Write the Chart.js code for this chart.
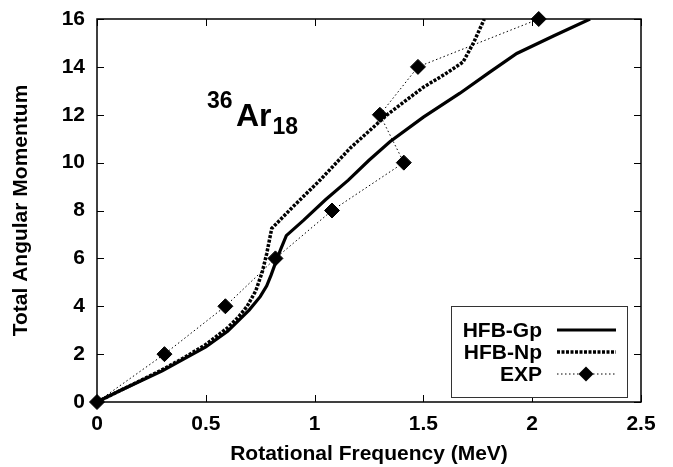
<!DOCTYPE html>
<html><head><meta charset="utf-8">
<script src="https://cdn.jsdelivr.net/npm/chart.js@4/dist/chart.umd.min.js"></script>
<style>html,body{margin:0;padding:0;background:#fff;}#wrap{width:673px;height:467px;}</style>
</head><body><div id="wrap"><canvas id="c" width="673" height="467"></canvas></div>
<script>
const xTicks = [0, 0.5, 1, 1.5, 2, 2.5];
const yTicks = [0, 2, 4, 6, 8, 10, 12, 14, 16];
const seriesNames = ['HFB-Gp', 'HFB-Np', 'EXP'];
const gpX = [0, 0.1, 0.2, 0.3, 0.4, 0.5, 0.6, 0.65, 0.7, 0.75, 0.78, 0.8, 0.82, 0.845, 0.87, 0.95, 1.05, 1.155, 1.25, 1.346, 1.5, 1.668, 1.8, 1.929, 2.1, 2.266];
const gpY = [0, 0.45, 0.88, 1.3, 1.8, 2.3, 2.95, 3.4, 3.85, 4.4, 4.85, 5.3, 5.8, 6.4, 6.95, 7.6, 8.45, 9.27, 10.1, 10.87, 11.9, 12.9, 13.75, 14.56, 15.3, 16];
const npX = [0, 0.1, 0.2, 0.3, 0.4, 0.5, 0.6, 0.65, 0.69, 0.73, 0.76, 0.78, 0.803, 0.9, 1.025, 1.163, 1.333, 1.5, 1.6, 1.682, 1.73, 1.78];
const npY = [0, 0.45, 0.9, 1.35, 1.85, 2.4, 3.1, 3.55, 4.0, 4.65, 5.45, 6.2, 7.25, 8.15, 9.27, 10.6, 12.0, 13.15, 13.7, 14.2, 15.0, 16];
const expX = [0, 0.31, 0.59, 0.82, 1.08, 1.41, 1.30, 1.475, 2.03];
const expY = [0, 2, 4, 6, 8, 10, 12, 14, 16];

const FONT = '"Liberation Sans", Arial, Helvetica, sans-serif';
const toPts = (xs, ys) => xs.map((x, i) => ({x: x, y: ys[i]}));

const framePlugin = {
  id: 'frame',
  beforeDatasetsDraw(chart) {
    const {ctx, chartArea: a, scales: {x, y}} = chart;
    ctx.save();
    ctx.strokeStyle = '#000';
    ctx.lineWidth = 1.5;
    ctx.strokeRect(a.left, a.top, a.right - a.left, a.bottom - a.top);
    const L = 7;
    ctx.lineWidth = 1;
    ctx.beginPath();
    xTicks.forEach(v => {
      const px = Math.round(x.getPixelForValue(v)) + 0.5;
      ctx.moveTo(px, a.bottom); ctx.lineTo(px, a.bottom - L);
      ctx.moveTo(px, a.top); ctx.lineTo(px, a.top + L);
    });
    yTicks.forEach(v => {
      const py = Math.round(y.getPixelForValue(v)) + 0.5;
      ctx.moveTo(a.left, py); ctx.lineTo(a.left + L, py);
      ctx.moveTo(a.right, py); ctx.lineTo(a.right - L, py);
    });
    ctx.stroke();
    ctx.restore();
  },
  afterDraw(chart) {
    const cx = chart.ctx;
    cx.save();
    // nucleus label
    cx.fillStyle = '#000';
    cx.textBaseline = 'alphabetic';
    cx.textAlign = 'left';
    cx.font = 'bold 23px ' + FONT;
    cx.fillText('36', 207, 108);
    cx.font = 'bold 32px ' + FONT;
    cx.fillText('Ar', 236, 126);
    const w = cx.measureText('Ar').width;
    cx.font = 'bold 23px ' + FONT;
    cx.fillText('18', 236 + w + 1, 134);
    // legend
    const bx = 451, by = 306, bw = 176, bh = 91;
    cx.fillStyle = '#fff';
    cx.fillRect(bx, by, bw, bh);
    cx.strokeStyle = '#333';
    cx.lineWidth = 1;
    cx.strokeRect(bx + 0.5, by + 0.5, bw, bh);
    const rows = [330, 352, 374];
    cx.fillStyle = '#000';
    cx.font = 'bold 21px ' + FONT;
    cx.textAlign = 'right';
    cx.textBaseline = 'middle';
    const ds = chart.data.datasets;
    rows.forEach((ry, i) => {
      cx.fillText(seriesNames[i], 542, ry + 1);
      const d = ds[i];
      cx.beginPath();
      cx.setLineDash(d.borderDash || []);
      cx.lineWidth = d.borderWidth;
      cx.strokeStyle = '#000';
      cx.moveTo(557, ry); cx.lineTo(616, ry);
      cx.stroke();
      cx.setLineDash([]);
      if (i === 2) {
        cx.beginPath();
        const r = 7.5, mx = 586;
        cx.moveTo(mx, ry - r); cx.lineTo(mx + r, ry); cx.lineTo(mx, ry + r); cx.lineTo(mx - r, ry); cx.closePath();
        cx.fill();
      }
    });
    cx.restore();
  }
};

const tickFont = {family: FONT, size: 21, weight: 'bold'};
const titleFont = {family: FONT, size: 21, weight: 'bold'};

new Chart(document.getElementById('c'), {
  type: 'scatter',
  data: {
    datasets: [
      {label: seriesNames[0], data: toPts(gpX, gpY), showLine: true, borderColor: '#000', borderWidth: 3.2, pointRadius: 0, tension: 0, order: 1},
      {label: seriesNames[1], data: toPts(npX, npY), showLine: true, borderColor: '#000', borderWidth: 3.5, borderDash: [3, 1.5], pointRadius: 0, tension: 0, order: 2},
      {label: seriesNames[2], data: toPts(expX, expY), showLine: true, borderColor: '#000', borderWidth: 1, borderDash: [1.5, 2.5], pointStyle: 'rectRot', pointRadius: 7.5, pointBackgroundColor: '#000', pointBorderColor: '#000', pointBorderWidth: 1, tension: 0, order: 0, clip: false}
    ]
  },
  options: {
    responsive: false,
    animation: false,
    devicePixelRatio: 1,
    layout: {padding: {top: 19, right: 32, left: 0, bottom: 0}},
    plugins: {legend: {display: false}, tooltip: {enabled: false}},
    scales: {
      x: {
        type: 'linear', min: 0, max: 2.5,
        afterBuildTicks: s => { s.ticks = xTicks.map(v => ({value: v})); },
        afterFit: s => { s.height = 65; s.paddingLeft = 0; s.paddingRight = 0; s.paddingTop = 0; s.paddingBottom = 0; },
        grid: {display: false, drawTicks: false},
        border: {display: false},
        ticks: {color: '#000', font: tickFont, padding: 10, maxRotation: 0, autoSkip: false, callback: v => String(v)},
        title: {display: true, text: 'Rotational Frequency (MeV)', color: '#000', font: titleFont, padding: {top: 0, bottom: 0}}
      },
      y: {
        type: 'linear', min: 0, max: 16,
        afterBuildTicks: s => { s.ticks = yTicks.map(v => ({value: v})); },
        afterFit: s => { s.width = 97; s.paddingLeft = 0; s.paddingRight = 0; s.paddingTop = 0; s.paddingBottom = 0; },
        grid: {display: false, drawTicks: false},
        border: {display: false},
        ticks: {color: '#000', font: tickFont, padding: 12, autoSkip: false, callback: v => String(v)},
        title: {display: true, text: 'Total Angular Momentum', color: '#000', font: titleFont, padding: {top: 9, bottom: 0}}
      }
    }
  },
  plugins: [framePlugin]
});
</script></body></html>
